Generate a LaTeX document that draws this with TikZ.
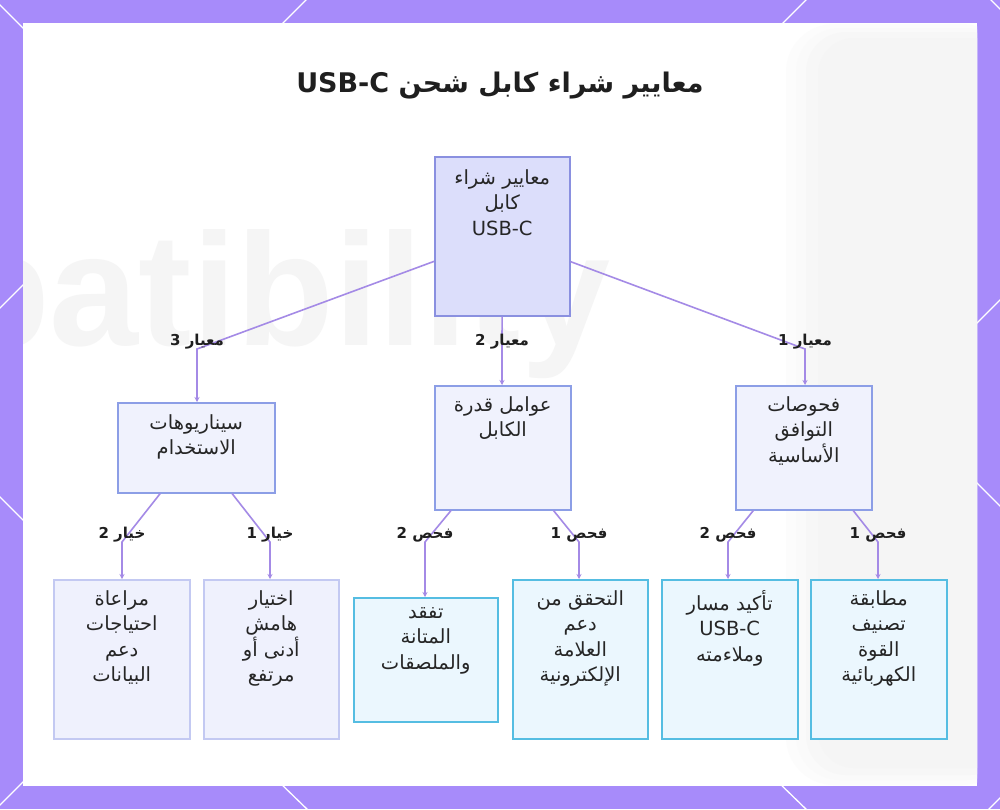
\documentclass[tikz,border=0pt]{standalone}
\usepackage{fontspec}
\setmainfont{DejaVu Sans}
\newfontfamily\arabicfont[Script=Arabic]{DejaVu Sans}
\newfontfamily\wmfont{Liberation Sans}
\TeXXeTstate=1
\usetikzlibrary{arrows.meta}
\definecolor{framec}{HTML}{A78BFA}
\definecolor{edgec}{HTML}{A48AE6}
\definecolor{rootfill}{HTML}{DCDEFB}
\definecolor{rootdraw}{HTML}{8A90E0}
\definecolor{midfill}{HTML}{F0F2FD}
\definecolor{middraw}{HTML}{8C9EE6}
\definecolor{leaffillA}{HTML}{EFF1FD}
\definecolor{leafdrawA}{HTML}{C3C9F2}
\definecolor{leaffillB}{HTML}{EBF7FE}
\definecolor{leafdrawB}{HTML}{55BDE2}
\newcommand{\artxt}[1]{\beginR #1\endR}
\tikzset{
  boxbase/.style={rectangle, anchor=north west, line width=1.5pt, inner sep=0pt},
  rootbox/.style={boxbase, fill=rootfill, draw=rootdraw},
  midbox/.style={boxbase, fill=midfill, draw=middraw},
  leafA/.style={boxbase, fill=leaffillA, draw=leafdrawA},
  leafB/.style={boxbase, fill=leaffillB, draw=leafdrawB},
  boxtxt/.style={anchor=north, inner sep=0pt, align=center, text=black!85,
    font=\arabicfont\fontsize{19.5}{25.5}\selectfont},
  edgelab/.style={inner sep=1pt, text=black!88,
    font=\arabicfont\bfseries\fontsize{15}{18}\selectfont},
  conn/.style={draw=edgec, line width=1.6pt, -{Stealth[length=5pt,width=5pt]}},
  latt/.style={white, line width=1.3pt}
}
\begin{document}
\begin{tikzpicture}[x=1pt,y=-1pt]
\useasboundingbox (0,0) rectangle (1000,809);
% frame
\fill[framec] (0,0) rectangle (1000,809);
\begin{scope}
  \clip (0,0) rectangle (1000,809);
  \draw[latt] (-2,3) -- (30,35);
  \draw[latt] (277,29) -- (309,-3);
  \draw[latt] (777,29) -- (809,-3);
  \draw[latt] (988,-3) -- (1004,13);
  \draw[latt] (-3,311) -- (29,279);
  \draw[latt] (-3,494) -- (29,526);
  \draw[latt] (-3,808) -- (29,776);
  \draw[latt] (971,329) -- (1003,297);
  \draw[latt] (971,477) -- (1003,509);
  \draw[latt] (1003,795) -- (986,812);
  \draw[latt] (277,780) -- (310,812);
  \draw[latt] (776,780) -- (809,812);
\end{scope}
\fill[white] (23,23) rectangle (977,786);
% faint background
\begin{scope}
  \clip (23,23) rectangle (977,786);
  \fill[black!1, rounded corners=48pt] (786,24) rectangle (1010,785);
  \fill[black!2, rounded corners=44pt] (796,28) rectangle (1010,780);
  \fill[black!3, rounded corners=40pt] (806,32) rectangle (1010,775);
  \fill[black!4, rounded corners=36pt] (818,38) rectangle (1010,768);
  \node[anchor=base west, inner sep=0pt, text=black!4,
        font=\wmfont\bfseries\fontsize{160}{160}\selectfont] (wm) at (-48,345) {patibility};
\end{scope}
% title
\node[font=\arabicfont\bfseries\fontsize{27}{32}\selectfont, text=black!88] (title) at (500,86)
  {\beginR معايير شراء كابل شحن \beginL USB-C\endL\endR};
% boxes
\node[rootbox, minimum width=135pt, minimum height=159pt] (root) at (434,156) {};
\node[midbox, minimum width=157pt, minimum height=90pt] (scen) at (117,402) {};
\node[midbox, minimum width=136pt, minimum height=124pt] (cap) at (434,385) {};
\node[midbox, minimum width=136pt, minimum height=124pt] (compat) at (735,385) {};
\node[leafA, minimum width=136pt, minimum height=159pt] (data) at (53,579) {};
\node[leafA, minimum width=135pt, minimum height=159pt] (margin) at (203,579) {};
\node[leafB, minimum width=144pt, minimum height=124pt] (dur) at (353,597) {};
\node[leafB, minimum width=135pt, minimum height=159pt] (emark) at (512,579) {};
\node[leafB, minimum width=136pt, minimum height=159pt] (path) at (661,579) {};
\node[leafB, minimum width=136pt, minimum height=159pt] (power) at (810,579) {};
% box texts
\node[boxtxt] (roott) at ([yshift=-13pt]root.north) {\artxt{معايير شراء}\\\artxt{كابل}\\USB-C};
\node[boxtxt] (scent) at ([yshift=-12pt]scen.north) {\artxt{سيناريوهات}\\\artxt{الاستخدام}};
\node[boxtxt] (capt) at ([yshift=-11pt]cap.north) {\artxt{عوامل قدرة}\\\artxt{الكابل}};
\node[boxtxt] (compatt) at ([yshift=-11pt]compat.north) {\artxt{فحوصات}\\\artxt{التوافق}\\\artxt{الأساسية}};
\node[boxtxt] (datat) at ([yshift=-11pt]data.north) {\artxt{مراعاة}\\\artxt{احتياجات}\\\artxt{دعم}\\\artxt{البيانات}};
\node[boxtxt] (margint) at ([yshift=-11pt]margin.north) {\artxt{اختيار}\\\artxt{هامش}\\\artxt{أدنى أو}\\\artxt{مرتفع}};
\node[boxtxt] (durt) at ([yshift=-10pt]dur.north) {\artxt{تفقد}\\\artxt{المتانة}\\\artxt{والملصقات}};
\node[boxtxt] (emarkt) at ([yshift=-11pt]emark.north) {\artxt{التحقق من}\\\artxt{دعم}\\\artxt{العلامة}\\\artxt{الإلكترونية}};
\node[boxtxt] (patht) at ([yshift=-11pt]path.north) {\artxt{تأكيد مسار}\\USB-C\\\artxt{وملاءمته}};
\node[boxtxt] (powert) at ([yshift=-11pt]power.north) {\artxt{مطابقة}\\\artxt{تصنيف}\\\artxt{القوة}\\\artxt{الكهربائية}};
% bend points
\coordinate (b1) at (805,349);
\coordinate (b2) at (502,349);
\coordinate (b3) at (197,349);
\coordinate (s1) at (270,542);
\coordinate (s2) at (122,542);
\coordinate (c1) at (579,542);
\coordinate (c2) at (425,542);
\coordinate (k1) at (878,542);
\coordinate (k2) at (728,542);
% connectors
\draw[conn] (root) -- (b1) -- (b1 |- compat.north);
\draw[conn] (root) -- (b2) -- (b2 |- cap.north);
\draw[conn] (root) -- (b3) -- (b3 |- scen.north);
\draw[conn] (scen) -- (s1) -- (s1 |- margin.north);
\draw[conn] (scen) -- (s2) -- (s2 |- data.north);
\draw[conn] (cap) -- (c1) -- (c1 |- emark.north);
\draw[conn] (cap) -- (c2) -- (c2 |- dur.north);
\draw[conn] (compat) -- (k1) -- (k1 |- power.north);
\draw[conn] (compat) -- (k2) -- (k2 |- path.north);
% labels
\node[edgelab] (lb1) at ([yshift=7pt]b1) {\artxt{معيار 1}};
\node[edgelab] (lb2) at ([yshift=7pt]b2) {\artxt{معيار 2}};
\node[edgelab] (lb3) at ([yshift=7pt]b3) {\artxt{معيار 3}};
\node[edgelab] (ls1) at ([yshift=7pt]s1) {\artxt{خيار 1}};
\node[edgelab] (ls2) at ([yshift=7pt]s2) {\artxt{خيار 2}};
\node[edgelab] (lc1) at ([yshift=7pt]c1) {\artxt{فحص 1}};
\node[edgelab] (lc2) at ([yshift=7pt]c2) {\artxt{فحص 2}};
\node[edgelab] (lk1) at ([yshift=7pt]k1) {\artxt{فحص 1}};
\node[edgelab] (lk2) at ([yshift=7pt]k2) {\artxt{فحص 2}};
\end{tikzpicture}
\end{document}
